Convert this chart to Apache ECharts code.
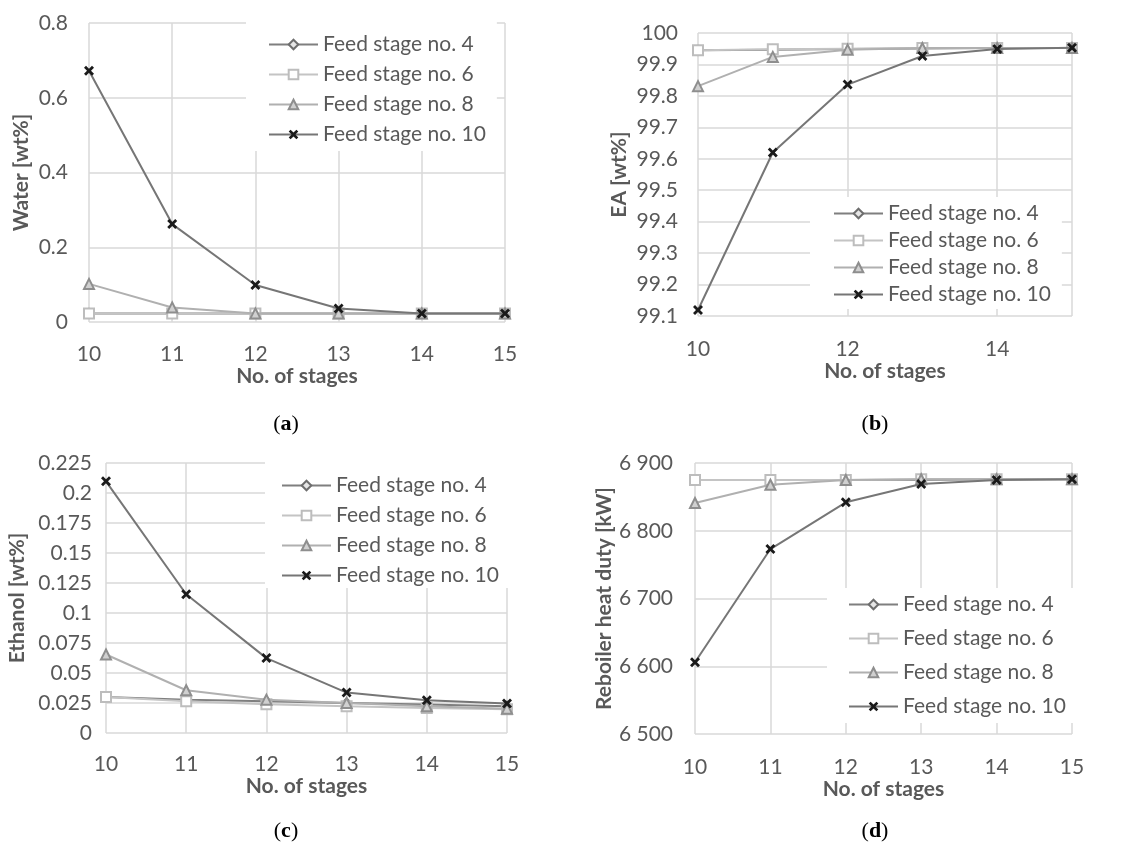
<!DOCTYPE html>
<html>
<head>
<meta charset="utf-8">
<script src="https://cdn.jsdelivr.net/npm/echarts@6/dist/echarts.min.js"></script>
<style>html,body{margin:0;padding:0;background:#fff}#c{width:1132px;height:843px}</style>
</head>
<body>
<div id="c"></div>
<script>
// ---- data ----
const stages = [10, 11, 12, 13, 14, 15];
const seriesNames = ['Feed stage no. 4', 'Feed stage no. 6', 'Feed stage no. 8', 'Feed stage no. 10'];

const waterFeed4  = [0.023, 0.023, 0.023, 0.023, 0.023, 0.023];
const waterFeed6  = [0.023, 0.023, 0.023, 0.023, 0.023, 0.023];
const waterFeed8  = [0.102, 0.039, 0.023, 0.023, 0.023, 0.023];
const waterFeed10 = [0.672, 0.262, 0.099, 0.036, 0.023, 0.023];

const eaFeed4  = [99.945, 99.947, 99.949, 99.951, 99.952, 99.952];
const eaFeed6  = [99.945, 99.948, 99.950, 99.952, 99.952, 99.952];
const eaFeed8  = [99.831, 99.924, 99.947, 99.952, 99.952, 99.952];
const eaFeed10 = [99.119, 99.620, 99.836, 99.927, 99.949, 99.953];

const ethFeed4  = [0.0300, 0.0278, 0.0265, 0.0251, 0.0237, 0.0223];
const ethFeed6  = [0.0300, 0.0265, 0.0240, 0.0223, 0.0209, 0.0198];
const ethFeed8  = [0.0654, 0.0356, 0.0278, 0.0251, 0.0223, 0.0203];
const ethFeed10 = [0.2097, 0.1156, 0.0624, 0.0337, 0.0273, 0.0245];

const dutyFeed4  = [6875, 6875, 6875, 6875, 6876, 6876];
const dutyFeed6  = [6875, 6875, 6875, 6876, 6876, 6876];
const dutyFeed8  = [6841, 6868, 6875, 6876, 6876, 6876];
const dutyFeed10 = [6606, 6773, 6842, 6869, 6875, 6876];

const captions = ['a', 'b', 'c', 'd'];

// ---- styles ----
const FONT = 'Lato';
const TXT = '#595959';
const GRIDC = '#d9d9d9';
const xPath = 'path://M2,0 L5,3 L8,0 L10,2 L7,5 L10,8 L8,10 L5,7 L2,10 L0,8 L3,5 L0,2 Z';
const styles = [
  { symbol: 'diamond', size: 9, line: '#7f7f7f', fill: '#e6e6e6', border: '#6e6e6e', bw: 2 },
  { symbol: 'rect', size: 10, line: '#c4c4c4', fill: '#ffffff', border: '#bdbdbd', bw: 2 },
  { symbol: 'triangle', size: 10, line: '#b0b0b0', fill: '#d0d0d0', border: '#8e8e8e', bw: 2 },
  { symbol: xPath, size: 10, line: '#767676', fill: '#1a1a1a', border: '#1a1a1a', bw: 0 }
];

const panels = [
  { data: [waterFeed4, waterFeed6, waterFeed8, waterFeed10], yName: 'Water [wt%]',
    grid: { left: 89, top: 23, width: 416, height: 299 },
    y: { min: 0, max: 0.8, interval: 0.2 }, xInterval: 1, yNameGap: 57, yMargin: 21, xMargin: 22, xNameGap: 44,
    legend: { left: 246, top: 16, padding: [18, 11, 6, 22], gap: 9 } },
  { data: [eaFeed4, eaFeed6, eaFeed8, eaFeed10], yName: 'EA [wt%]',
    grid: { left: 698, top: 33, width: 374, height: 283 },
    y: { min: 99.1, max: 100, interval: 0.1 }, xInterval: 2, yNameGap: 68, yMargin: 20, xMargin: 23, xNameGap: 43,
    legend: { left: 810, top: 197, padding: [6, 11, 4, 23], gap: 6 } },
  { data: [ethFeed4, ethFeed6, ethFeed8, ethFeed10], yName: 'Ethanol [wt%]',
    grid: { left: 106, top: 463, width: 401, height: 270 },
    y: { min: 0, max: 0.225, interval: 0.025 }, xInterval: 1, yNameGap: 78, yMargin: 14, xMargin: 21, xNameGap: 40,
    legend: { left: 265, top: 458, padding: [17, 11, 2, 16], gap: 9 } },
  { data: [dutyFeed4, dutyFeed6, dutyFeed8, dutyFeed10], yName: 'Reboiler heat duty [kW]',
    grid: { left: 695, top: 463, width: 377, height: 271 },
    y: { min: 6500, max: 6900, interval: 100 }, xInterval: 1, yNameGap: 70, yMargin: 22, xMargin: 23, xNameGap: 38,
    legend: { left: 827, top: 588, padding: [6, 11, 6, 21], gap: 13 } }
];

const grid = [], xAxis = [], yAxis = [], series = [], legend = [];
panels.forEach((p, i) => {
  grid.push(Object.assign({ containLabel: false }, p.grid));
  xAxis.push({
    type: 'value', gridIndex: i, min: 10, max: 15, interval: p.xInterval,
    name: 'No. of stages', nameLocation: 'middle', nameGap: p.xNameGap,
    nameTextStyle: { fontFamily: FONT, fontSize: 21, fontWeight: 'bold', color: TXT },
    axisLine: { show: false }, axisTick: { show: false },
    axisLabel: { fontFamily: FONT, fontSize: 21, color: TXT, margin: p.xMargin,
      formatter: v => (p.xInterval === 2 && v === 15) ? '' : String(v) },
    splitLine: { show: true, lineStyle: { color: GRIDC, width: 1.5 } }
  });
  yAxis.push({
    type: 'value', gridIndex: i, min: p.y.min, max: p.y.max, interval: p.y.interval,
    name: p.yName, nameLocation: 'middle', nameGap: p.yNameGap,
    nameTextStyle: { fontFamily: FONT, fontSize: 21, fontWeight: 'bold', color: TXT },
    axisLine: { show: false }, axisTick: { show: false },
    axisLabel: { fontFamily: FONT, fontSize: 21, color: TXT, margin: p.yMargin,
      formatter: v => {
        if (i === 3) { const s = String(Math.round(v)); return s.slice(0, 1) + ' ' + s.slice(1); }
        return String(Math.round(v * 10000) / 10000);
      } },
    splitLine: { show: true, lineStyle: { color: GRIDC, width: 1.5 } }
  });
  p.data.forEach((vals, k) => {
    const st = styles[k];
    series.push({
      type: 'line', name: seriesNames[k], xAxisIndex: i, yAxisIndex: i,
      data: stages.map((s, j) => [s, vals[j]]),
      symbol: st.symbol, symbolSize: st.size, showAllSymbol: true,
      lineStyle: { color: st.line, width: 2 },
      itemStyle: { color: st.fill, borderColor: st.border, borderWidth: st.bw },
      animation: false, z: 2 + k
    });
  });
  legend.push({
    data: seriesNames, orient: 'vertical', left: p.legend.left, top: p.legend.top,
    padding: p.legend.padding, itemGap: p.legend.gap, itemWidth: 49, itemHeight: 12,
    backgroundColor: '#ffffff', selectedMode: false,
    textStyle: { fontFamily: FONT, fontSize: 21, color: TXT, lineHeight: 20 }
  });
});

const capPos = [[286, 424], [875, 424], [286, 831], [875, 831]];
const graphic = captions.map((c, i) => ({
  type: 'text', x: capPos[i][0], y: capPos[i][1],
  style: {
    text: '{n|(}{b|' + c + '}{n|)}', align: 'center', verticalAlign: 'middle',
    rich: {
      n: { fontFamily: 'Liberation Serif', fontSize: 22, fill: '#000' },
      b: { fontFamily: 'Liberation Serif', fontSize: 22, fontWeight: 'bold', fill: '#000' }
    }
  }
}));

const chart = echarts.init(document.getElementById('c'), null, { renderer: 'canvas' });
chart.setOption({ animation: false, backgroundColor: '#ffffff', grid, xAxis, yAxis, series, legend, graphic });
</script>
</body>
</html>
